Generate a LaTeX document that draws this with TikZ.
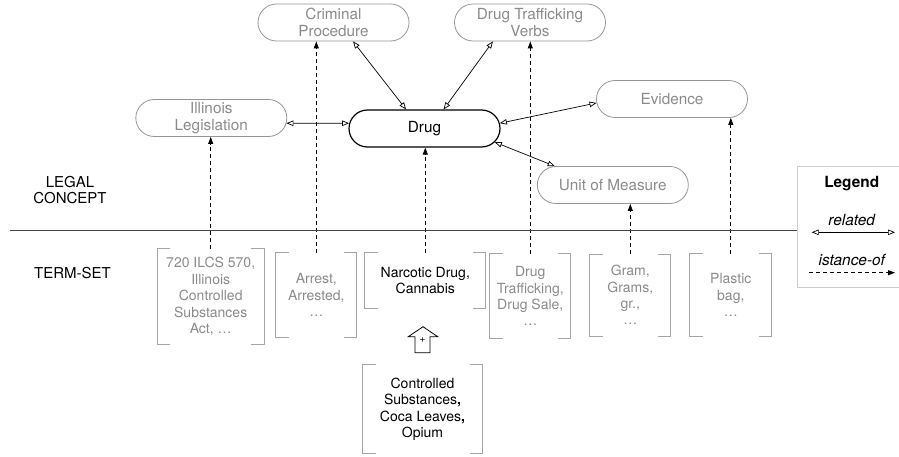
\documentclass[tikz,border=0pt]{standalone}
\usepackage{fontspec}
\setmainfont{TeX Gyre Heros}
\usetikzlibrary{arrows.meta, shapes.misc}
\definecolor{conceptgray}{RGB}{138,138,138}
\definecolor{bordergray}{RGB}{150,150,150}
\definecolor{bracketgray}{RGB}{165,165,165}
\definecolor{legendgray}{RGB}{205,205,205}
\definecolor{rulegray}{RGB}{70,70,70}
\tikzset{
  conceptnode/.style={rounded rectangle, draw=bordergray, line width=0.8pt, text=conceptgray, minimum width=151pt, minimum height=37pt, inner sep=0pt, align=center, font=\fontsize{15.3}{17}\selectfont},
  mainconcept/.style={conceptnode, draw=black, text=black, line width=1.2pt},
  termset/.style={inner sep=0pt, align=center, text=conceptgray, font=\fontsize{14}{16.4}\selectfont},
  layertext/.style={align=center, font=\fontsize{15}{16.5}\selectfont},
  relatedarrow/.style={line width=0.7pt, {Triangle[open, length=7pt, width=5.5pt]}-{Triangle[open, length=7pt, width=5.5pt]}},
  instancearrow/.style={line width=0.8pt, dash pattern=on 4pt off 3pt, -{Triangle[length=7pt, width=5pt]}},
  bracket/.style={bracketgray, line width=0.8pt}
}
\begin{document}
\begin{tikzpicture}[x=1pt, y=-1pt]
\useasboundingbox (0, 0) rectangle (899, 457);
\node [conceptnode] (crim) at (333.5, 22.5) {Criminal\\Procedure};
\node [conceptnode] (traffverbs) at (530, 22.5) {Drug Trafficking\\Verbs};
\node [conceptnode] (illinois) at (211.3, 118) {Illinois\\Legislation};
\node [mainconcept] (drug) at (424.5, 128.5) {Drug};
\node [conceptnode] (evidence) at (672, 99) {Evidence};
\node [conceptnode] (uom) at (612.8, 185) {Unit of Measure};
\node [layertext] (legal) at (70, 190) {LEGAL\\CONCEPT};
\node [layertext] (termlabel) at (72.5, 273) {TERM-SET};
\node [termset, minimum width=106.7pt, minimum height=95pt] (ilcs) at (210.7, 296.5) {720 ILCS 570,\\Illinois\\Controlled\\Substances\\Act, …};
\node [termset, minimum width=80.7pt, minimum height=84.6pt] (arrest) at (316.3, 295) {Arrest,\\Arrested,\\…};
\node [termset, text=black, minimum width=120.7pt, minimum height=55.6pt] (narc) at (425.3, 280.5) {Narcotic Drug,\\Cannabis};
\node [termset, minimum width=80.7pt, minimum height=84.3pt] (traff) at (530.3, 296.2) {Drug\\Trafficking,\\Drug Sale,\\…};
\node [termset, minimum width=80.7pt, minimum height=81.4pt] (gram) at (630.3, 295) {Gram,\\Grams,\\gr.,\\…};
\node [termset, minimum width=81.7pt, minimum height=82pt] (bag) at (730.8, 295) {Plastic\\bag,\\…};
\node [termset, text=black, minimum width=119.6pt, minimum height=88.3pt] (ctrl) at (422.5, 409.2) {Controlled\\Substances\textbf{,}\\Coca Leaves\textbf{,}\\Opium};
\foreach \n in {ilcs, arrest, narc, traff, gram, bag, ctrl}{
\draw [bracket] ([xshift=13pt] \n.north west) -- (\n.north west) -- (\n.south west) -- ([xshift=13pt] \n.south west);
\draw [bracket] ([xshift=-13pt] \n.north east) -- (\n.north east) -- (\n.south east) -- ([xshift=-13pt] \n.south east);
}
\node [font=\fontsize{10}{10}\selectfont, inner sep=1pt] (plus) at (422.5, 340.5) {+};
\draw [line width=0.8pt] (423, 326.7) -- (437.7, 336.7) -- (430, 336.7) -- (430, 352.7) -- (415, 352.7) -- (415, 336.7) -- (408.3, 336.7) -- cycle;
\draw [relatedarrow] (illinois.-4) -- (drug.176);
\draw [relatedarrow] (crim.-44) -- (drug.134);
\draw [relatedarrow] (traffverbs.207) -- (drug.45);
\draw [relatedarrow] (evidence.183) -- (drug.4);
\draw [relatedarrow] (uom.162) -- (drug.-11);
\draw [instancearrow] (ilcs.north) -- (ilcs.north |- illinois.south);
\draw [instancearrow] (arrest.north) -- (arrest.north |- crim.south);
\draw [instancearrow] (narc.north) -- (narc.north |- drug.south);
\draw [instancearrow] (traff.north) -- (traff.north |- traffverbs.south);
\draw [instancearrow] (gram.north) -- (gram.north |- uom.south);
\draw [instancearrow] (bag.north) -- (bag.north |- evidence.south);
\coordinate (sepleft) at (10, 230);
\coordinate (sepright) at (797, 230);
\draw [rulegray, line width=1pt] (sepleft) -- (sepright);
\draw [legendgray, line width=1pt] (899, 167) -| (797, 287) -- (899, 287);
\node [font=\fontsize{15.4}{17}\selectfont\bfseries] (legend) at (851.7, 184) {Legend};
\node [font=\fontsize{15.4}{17}\selectfont\itshape] (related) at (851.7, 220) {related};
\node [font=\fontsize{15.4}{17}\selectfont\itshape] (istance) at (851.8, 259.5) {istance-of};
\coordinate (relA) at (811.7, 232.3);
\coordinate (relB) at (895, 232.3);
\coordinate (instA) at (809, 272.7);
\coordinate (instB) at (895, 272.7);
\draw [relatedarrow] (relA) -- (relB);
\draw [instancearrow] (instA) -- (instB);
\end{tikzpicture}
\end{document}
